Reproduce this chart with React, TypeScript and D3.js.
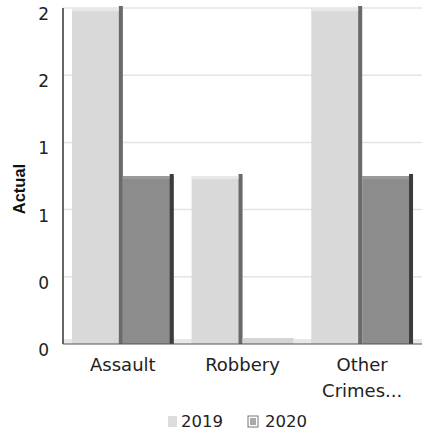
import React from "react";
import * as d3 from "d3";

const categories = ["Assault", "Robbery", "Other Crimes..."];
const series = ["2019", "2020"];
const values2019 = [2, 1, 2];
const values2020 = [1, 0, 1];
const yTicks = [0, 0.4, 0.8, 1.2, 1.6, 2.0];

const W = 422, H = 440;
const left = 63, right = 422, top = 8, bottom = 344;

export default function App() {
  const x0 = d3.scaleBand<string>().domain(categories).range([left, right]).paddingInner(0.15).paddingOuter(0.075);
  const x1 = d3.scaleBand<string>().domain(series).range([0, x0.bandwidth()]).padding(0);
  const y = d3.scaleLinear().domain([0, 2]).range([bottom, top]);
  const data = [values2019, values2020];
  const faces = ["#d9d9d9", "#8c8c8c"];
  const edges = ["#6a6a6a", "#3c3c3c"];
  const font = "'DejaVu Sans', Verdana, sans-serif";
  const lines = (c: string) => (c === "Other Crimes..." ? ["Other", "Crimes..."] : [c]);
  return (
    <svg width={W} height={H} style={{ position: "absolute", left: 0, top: 0, background: "#fff" }} fontFamily={font}>
      <rect x={0} y={0} width={W} height={H} fill="#fff" />
      {yTicks.map((t, i) => (
        <g key={i}>
          {t > 0 && <line x1={left} x2={right} y1={y(t)} y2={y(t)} stroke="#e4e4e4" strokeWidth={1.5} />}
          <text x={49} y={y(t) + 7} textAnchor="end" dominantBaseline="middle" fontSize={17} fill="#222">
            {d3.format(".0f")(Math.round(t))}
          </text>
        </g>
      ))}
      {/* floor */}
      <rect x={left} y={bottom - 5} width={right - left} height={5} fill="#e8e8e8" />
      {categories.map((c, ci) =>
        series.map((s, si) => {
          const v = data[si][ci];
          const bx = (x0(c) as number) + (x1(s) as number);
          const bw = x1.bandwidth();
          const by = Math.min(y(v), bottom - 6);
          const bh = bottom - by;
          return (
            <g key={c + s}>
              <rect x={bx} y={by} width={bw} height={bh} fill={v === 0 ? "#d5d5d5" : faces[si]} />
              {v > 0 && <rect x={bx + bw - 4} y={by - 2} width={4} height={bh + 2} fill={edges[si]} />}
              {v > 0 && <rect x={bx} y={by} width={bw - 4} height={3} fill={si === 0 ? "#e8e8e8" : "#9a9a9a"} />}
            </g>
          );
        })
      )}
      <line x1={left} x2={left} y1={top} y2={bottom} stroke="#333" strokeWidth={1.5} />
      <line x1={left} x2={right} y1={bottom} y2={bottom} stroke="#555" strokeWidth={1} />
      {categories.map((c) =>
        lines(c).map((l, li) => (
          <text key={c + li} x={(x0(c) as number) + x0.bandwidth() / 2} y={366 + li * 26} textAnchor="middle" dominantBaseline="middle" fontSize={18} fill="#222">
            {l}
          </text>
        ))
      )}
      <text transform={`translate(21,${189}) rotate(-90)`} textAnchor="middle" dominantBaseline="middle" fontSize={16.5} fontWeight="bold" fontFamily="'Liberation Sans', Arial, sans-serif" fill="#111">
        Actual
      </text>
      <rect x={168} y={416} width={9} height={11} fill="#dcdcdc" />
      <text x={181} y={422} dominantBaseline="middle" fontSize={16.5} fill="#222">2019</text>
      <rect x={248} y={416} width={10} height={11} fill="#fff" stroke="#777" strokeWidth={1} />
      <rect x={250} y={418} width={6} height={7} fill="#aaa" />
      <text x={265} y={422} dominantBaseline="middle" fontSize={16.5} fill="#222">2020</text>
    </svg>
  );
}
